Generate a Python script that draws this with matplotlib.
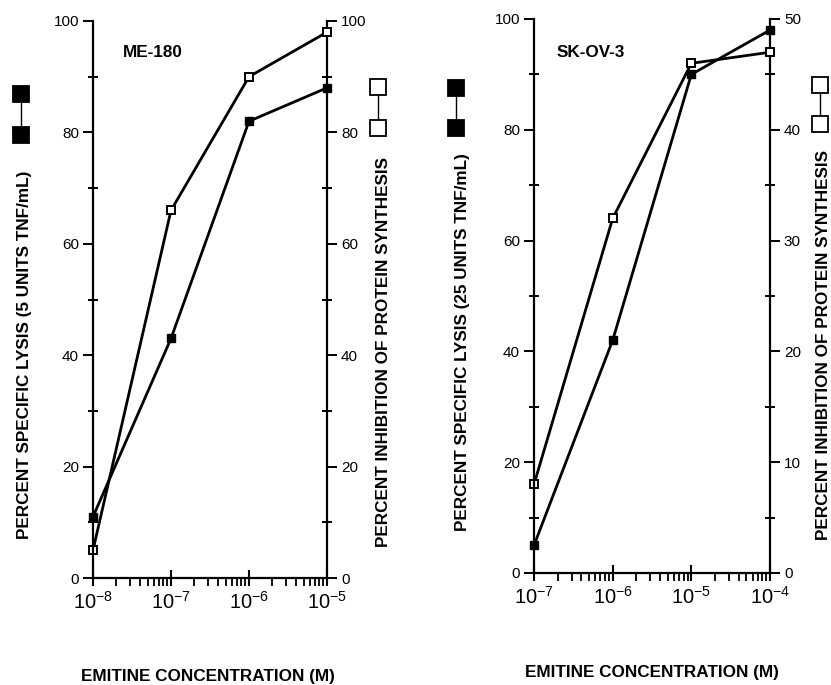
import math

import matplotlib
matplotlib.use("Agg")
import matplotlib.pyplot as plt
from matplotlib.lines import Line2D
from matplotlib.ticker import LogLocator, NullFormatter, FixedLocator

plt.rcParams["font.family"] = ["Liberation Sans", "DejaVu Sans"]
plt.rcParams["mathtext.fontset"] = "custom"
plt.rcParams["mathtext.rm"] = "Liberation Sans"

# ME-180 panel
me_conc = [1e-8, 1e-7, 1e-6, 1e-5]
me_lysis = [11, 43, 82, 88]
me_inhib = [5, 66, 90, 98]

# SK-OV-3 panel
sk_conc = [1e-7, 1e-6, 1e-5, 1e-4]
sk_lysis = [5, 42, 90, 98]
sk_inhib = [8, 32, 46, 47]

LW = 2.0
MS = 5.5
BOLD_SIZE = 12.3


def setup_axes(ax, ax2, xlim, right_max):
    ax.set_xscale("log")
    ax.set_xlim(*xlim)
    ax.set_ylim(0, 100)
    ax2.set_ylim(0, right_max)
    for a in (ax, ax2):
        a.spines["top"].set_visible(False)
        for s in a.spines.values():
            s.set_linewidth(1.6)
    ax.spines["right"].set_visible(False)
    ax2.spines["left"].set_visible(False)
    ax2.spines["bottom"].set_visible(False)

    ax.set_yticks([0, 20, 40, 60, 80, 100])
    ax.yaxis.set_minor_locator(FixedLocator([10, 30, 50, 70, 90]))
    step = right_max / 5
    ax2.set_yticks([step * i for i in range(6)])
    ax2.set_yticklabels([f"{int(step * i)}" for i in range(6)])
    ax2.yaxis.set_minor_locator(FixedLocator([step * (i + 0.5) for i in range(5)]))

    decades = [xlim[0] * 10 ** i for i in range(4)]
    ax.set_xticks(decades)
    ax.set_xticklabels([r"$\mathregular{10^{%d}}$" % round(math.log10(d)) for d in decades])
    ax.xaxis.set_minor_locator(LogLocator(base=10, subs=range(2, 10), numticks=20))
    ax.xaxis.set_minor_formatter(NullFormatter())

    ax.tick_params(axis="y", which="major", direction="out", length=7, width=1.4,
                   labelsize=11, pad=3)
    ax.tick_params(axis="y", which="minor", direction="inout", length=7, width=1.4)
    ax2.tick_params(axis="y", which="major", direction="out", length=7, width=1.4,
                    labelsize=11, pad=3)
    ax2.tick_params(axis="y", which="minor", direction="inout", length=7, width=1.4)
    ax.tick_params(axis="x", which="major", direction="inout", length=11, width=1.5,
                   labelsize=14.5, pad=4)
    ax.tick_params(axis="x", which="minor", direction="out", length=6, width=1.3,
                   bottom=True)
    ax.set_zorder(ax2.get_zorder() + 1)
    ax.patch.set_visible(False)


def glyph(fig, x, y_top, y_bot, filled):
    face = "black" if filled else "white"
    fig.add_artist(Line2D([x, x], [y_top, y_bot], transform=fig.transFigure,
                          color="black", lw=1.0, marker="s", markersize=11,
                          markerfacecolor=face, markeredgecolor="black",
                          markeredgewidth=1.3))


fig = plt.figure(figsize=(8.31, 6.85), dpi=100)
W, H = 831, 685

# left panel
axL = fig.add_axes([93 / W, 1 - 578 / H, (327 - 93) / W, (578 - 21) / H])
axL2 = axL.twinx()
setup_axes(axL, axL2, (1e-8, 1e-5), 100)
axL.plot(me_conc, me_lysis, color="black", lw=LW, marker="s", ms=MS,
         mfc="black", mec="black", clip_on=False, zorder=3)
axL2.plot(me_conc, me_inhib, color="black", lw=LW, marker="s", ms=MS,
          mfc="white", mec="black", mew=1.4, clip_on=False, zorder=3)
axL.text(0.128, 0.944, "ME-180", transform=axL.transAxes, fontsize=BOLD_SIZE,
         fontweight="bold", va="center", ha="left")

# right panel
axR = fig.add_axes([534 / W, 1 - 573 / H, (770 - 534) / W, (573 - 19) / H])
axR2 = axR.twinx()
setup_axes(axR, axR2, (1e-7, 1e-4), 50)
axR.plot(sk_conc, sk_lysis, color="black", lw=LW, marker="s", ms=MS,
         mfc="black", mec="black", clip_on=False, zorder=3)
axR2.plot(sk_conc, sk_inhib, color="black", lw=LW, marker="s", ms=MS,
          mfc="white", mec="black", mew=1.4, clip_on=False, zorder=3)
axR.text(0.097, 0.939, "SK-OV-3", transform=axR.transAxes, fontsize=BOLD_SIZE,
         fontweight="bold", va="center", ha="left")

lab = dict(rotation=90, ha="center", va="center", fontsize=BOLD_SIZE, fontweight="bold")
fig.text(25 / W, 1 - 355 / H, "PERCENT SPECIFIC LYSIS (5 UNITS TNF/mL)", **lab)
fig.text(384 / W, 1 - 352 / H, "PERCENT INHIBITION OF PROTEIN SYNTHESIS", **lab)
fig.text(462 / W, 1 - 342 / H, "PERCENT SPECIFIC LYSIS (25 UNITS TNF/mL)", **lab)
fig.text(824 / W, 1 - 345 / H, "PERCENT INHIBITION OF PROTEIN SYNTHESIS", **lab)

glyph(fig, 21 / W, 1 - 94 / H, 1 - 135 / H, True)
glyph(fig, 378 / W, 1 - 87 / H, 1 - 128 / H, False)
glyph(fig, 456 / W, 1 - 88 / H, 1 - 128 / H, True)
glyph(fig, 820 / W, 1 - 85 / H, 1 - 124 / H, False)

xl = dict(ha="center", va="center", fontsize=BOLD_SIZE, fontweight="bold")
fig.text(208 / W, 1 - 677 / H, "EMITINE CONCENTRATION (M)", **xl)
fig.text(652 / W, 1 - 672 / H, "EMITINE CONCENTRATION (M)", **xl)

fig.savefig("out.png", dpi=100)
